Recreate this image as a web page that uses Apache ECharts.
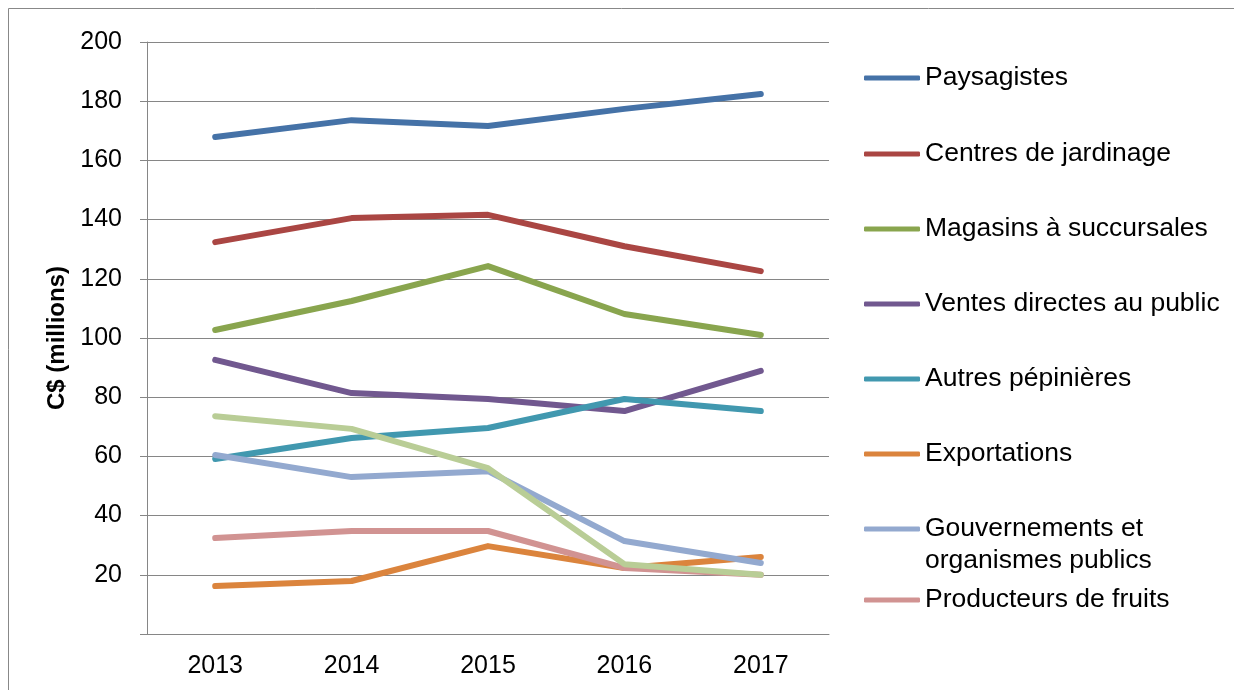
<!DOCTYPE html>
<html><head><meta charset="utf-8">
<script src="https://cdn.jsdelivr.net/npm/echarts@6/dist/echarts.min.js"></script>
<style>html,body{margin:0;padding:0;background:#fff}#c{width:1234px;height:690px}</style>
</head><body><div id="c"></div>
<script>
const categories = ['2013','2014','2015','2016','2017'];
const yTicks = [0,20,40,60,80,100,120,140,160,180,200];
const paysagistes = [167.9,173.6,171.6,177.4,182.4];
const centres = [132.4,140.5,141.6,131.0,122.6];
const magasins = [102.7,112.5,124.3,108.1,101.0];
const ventes = [92.6,81.4,79.4,75.3,88.9];
const autres = [59.1,66.2,69.6,79.4,75.3];
const exportations = [16.2,17.9,29.7,22.3,26.0];
const gouvernements = [60.5,53.0,55.0,31.4,24.0];
const producteurs = [32.4,34.8,34.8,22.3,20.0];
const nonNomme = [73.6,69.3,56.0,23.6,20.0];

const seriesNames = ['Paysagistes','Centres de jardinage','Magasins à succursales','Ventes directes au public','Autres pépinières','Exportations','Gouvernements et\norganismes publics','Producteurs de fruits',''];
const seriesData = [paysagistes,centres,magasins,ventes,autres,exportations,gouvernements,producteurs,nonNomme];
const colors = ['#4572A7','#AA4643','#89A54E','#71588F','#4198AF','#DB843D','#93A9CF','#D19392','#B9CD96'];

const font = '"Liberation Sans", Arial, sans-serif';
const LH = 32;
const legendCenters = [78,154,229,304,379,454,529,600];
const legends = legendCenters.map((c,i)=>{
  const multi = seriesNames[i].indexOf('\n') >= 0;
  return {
    data:[seriesNames[i]], left:864, top: multi ? c - LH*1.5 : c - LH/2, orient:'vertical',
    padding:0, itemWidth:56, itemHeight:5, itemGap:0, selectedMode:false,
    icon:'roundRect',
    formatter: n => multi ? '\n' + n : n,
    textStyle:{fontFamily:font,fontSize:26.5,color:'#000',lineHeight:LH}
  };
});

const chart = echarts.init(document.getElementById('c'), null, {renderer:'canvas'});
chart.setOption({
  animation:false,
  color:colors,
  graphic:[{type:'rect',shape:{x:8.5,y:8.5,width:1240,height:700},style:{fill:'none',stroke:'#888',lineWidth:1},silent:true}],
  grid:{left:147,top:42,width:682,height:592,containLabel:false},
  legend:legends,
  xAxis:{type:'category',data:categories,boundaryGap:true,
    axisLine:{lineStyle:{color:'#868686',width:1}},axisTick:{show:false},
    axisLabel:{fontFamily:font,fontSize:25,color:'#000',margin:20}},
  yAxis:{type:'value',min:yTicks[0],max:yTicks[yTicks.length-1],interval:20,
    name:'C$ (millions)',nameLocation:'middle',nameGap:75,nameRotate:90,
    nameTextStyle:{fontFamily:font,fontSize:24,fontWeight:'bold',color:'#000'},
    axisLine:{show:true,lineStyle:{color:'#868686',width:1}},
    axisTick:{show:true,inside:false,length:7,lineStyle:{color:'#868686'}},
    splitLine:{lineStyle:{color:'#868686',width:1}},
    axisLabel:{fontFamily:font,fontSize:25,color:'#000',margin:25,formatter:v=>v===0?'':String(v)}},
  series:seriesData.map((d,i)=>({
    name:seriesNames[i]||'Série 9',type:'line',data:d,symbol:'none',
    lineStyle:{width:6,color:colors[i],cap:'round',join:'round'},
    itemStyle:{color:colors[i]}
  }))
});
</script></body></html>
